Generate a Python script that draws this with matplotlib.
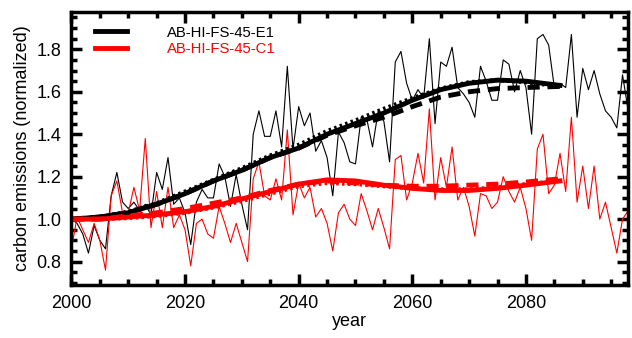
import matplotlib.pyplot as plt
from matplotlib.ticker import MultipleLocator

plt.rcParams['font.family'] = ['Liberation Sans', 'DejaVu Sans']

# annual values
years = list(range(2000, 2099))
e1 = [1.00, 0.98, 0.93, 0.84, 0.97, 0.90, 0.86, 1.11, 1.22, 1.08,
      1.05, 1.08, 1.04, 1.07, 1.02, 1.22, 1.14, 1.29, 1.07, 1.10,
      1.03, 0.88, 1.08, 1.14, 1.10, 1.10, 1.26, 1.20, 1.06, 1.21,
      1.07, 0.95, 1.40, 1.51, 1.39, 1.39, 1.51, 1.34, 1.72, 1.33,
      1.53, 1.44, 1.50, 1.32, 1.37, 1.29, 1.11, 1.41, 1.36, 1.27,
      1.26, 1.48, 1.47, 1.34, 1.51, 1.46, 1.27, 1.74, 1.79, 1.64,
      1.56, 1.61, 1.57, 1.85, 1.45, 1.74, 1.72, 1.81, 1.62, 1.59,
      1.55, 1.48, 1.72, 1.65, 1.56, 1.56, 1.75, 1.73, 1.60, 1.70,
      1.62, 1.40, 1.85, 1.87, 1.82, 1.62, 1.64, 1.62, 1.87, 1.48,
      1.71, 1.61, 1.70, 1.59, 1.51, 1.48, 1.43, 1.68, 1.51]
c1 = [0.86, 1.01, 0.95, 0.89, 0.98, 0.90, 0.76, 1.11, 1.18, 1.03,
      1.03, 1.15, 1.04, 1.38, 0.96, 1.13, 0.96, 1.15, 0.96, 1.02,
      0.95, 0.78, 0.98, 1.00, 0.93, 0.91, 1.06, 0.98, 0.89, 0.98,
      0.89, 0.80, 1.19, 1.27, 1.11, 1.09, 1.19, 1.09, 1.42, 1.02,
      1.17, 1.10, 1.15, 1.01, 1.05, 0.98, 0.85, 1.03, 1.07, 1.00,
      0.97, 1.12, 1.04, 0.95, 1.05, 0.96, 0.86, 1.28, 1.30, 1.09,
      1.17, 1.31, 1.17, 1.52, 1.09, 1.29, 1.15, 1.34, 1.09, 1.15,
      1.06, 0.92, 1.12, 1.11, 1.05, 1.08, 1.20, 1.13, 1.08, 1.15,
      1.05, 0.90, 1.33, 1.40, 1.12, 1.16, 1.31, 1.13, 1.48, 1.08,
      1.25, 1.05, 1.25, 1.00, 1.08, 0.96, 0.84, 1.00, 1.04]

# smoothed curves
syears = [2000, 2005, 2010, 2015, 2020, 2025, 2030, 2035, 2040,
          2045, 2050, 2055, 2060, 2065, 2070, 2075, 2080, 2086]
e1_solid = [1.00, 1.01, 1.03, 1.07, 1.12, 1.18, 1.23, 1.29, 1.335,
            1.40, 1.45, 1.50, 1.56, 1.61, 1.64, 1.655, 1.65, 1.63]
e1_dash = [1.00, 1.01, 1.03, 1.07, 1.12, 1.18, 1.23, 1.29, 1.335,
           1.395, 1.44, 1.48, 1.53, 1.575, 1.60, 1.615, 1.62, 1.625]
e1_dot = [1.00, 1.01, 1.035, 1.075, 1.13, 1.185, 1.24, 1.30, 1.35,
          1.415, 1.465, 1.52, 1.57, 1.615, 1.645, 1.655, 1.645, 1.625]
c1_solid = [1.00, 1.00, 1.01, 1.02, 1.035, 1.06, 1.095, 1.13, 1.165,
            1.185, 1.18, 1.16, 1.145, 1.135, 1.135, 1.145, 1.16, 1.18]
c1_dash = [1.00, 1.00, 1.015, 1.03, 1.05, 1.075, 1.10, 1.135, 1.165,
           1.18, 1.17, 1.16, 1.155, 1.155, 1.16, 1.165, 1.175, 1.19]
c1_dot = [1.00, 1.00, 1.005, 1.015, 1.03, 1.055, 1.085, 1.12, 1.155,
          1.17, 1.165, 1.155, 1.145, 1.14, 1.14, 1.15, 1.165, 1.18]

fig = plt.figure(figsize=(6.32, 3.38), dpi=100)
ax = fig.add_axes([0.113, 0.157, 0.881, 0.807])

ax.plot(years, e1, color='black', lw=0.8)
ax.plot(years, c1, color='red', lw=0.8)

for col, sol, das, dot in [('black', e1_solid, e1_dash, e1_dot),
                           ('red', c1_solid, c1_dash, c1_dot)]:
    ax.plot(syears, dot, color=col, lw=3, ls=(0, (0.6, 0.8)))
    ax.plot(syears, das, color=col, lw=3.5, ls=(0, (2.5, 1.6)))
    ax.plot(syears, sol, color=col, lw=3.5)

ax.set_xlim(2000, 2098)
ax.set_ylim(0.69, 1.975)
ax.xaxis.set_major_locator(MultipleLocator(20))
ax.xaxis.set_minor_locator(MultipleLocator(5))
ax.yaxis.set_major_locator(MultipleLocator(0.2))
ax.yaxis.set_minor_locator(MultipleLocator(0.05))
ax.yaxis.set_major_formatter(plt.FuncFormatter(lambda v, p: f'{v:.1f}'))
ax.tick_params(which='both', direction='in', top=True, right=True,
               labelsize=13, width=2.5, pad=7)
ax.tick_params(which='major', length=8)
ax.tick_params(which='minor', length=4)
for s in ax.spines.values():
    s.set_linewidth(2.5)

ax.set_xlabel('year', fontsize=13, labelpad=1)
ax.set_ylabel('carbon emissions (normalized)', fontsize=13, labelpad=4)

# legend
ax.plot([], [], color='black', lw=3.5, label='AB-HI-FS-45-E1')
ax.plot([], [], color='red', lw=3.5, label='AB-HI-FS-45-C1')
h, l = ax.get_legend_handles_labels()
leg = ax.legend(h[-2:], l[-2:], loc='upper left', frameon=False, fontsize=10.7,
                handlelength=2.15, handletextpad=2.7, labelspacing=0.15,
                borderaxespad=0.5, bbox_to_anchor=(0.018, 1.0))
for t, c in zip(leg.get_texts(), ['black', 'red']):
    t.set_color(c)

fig.savefig('out.png', dpi=100)
